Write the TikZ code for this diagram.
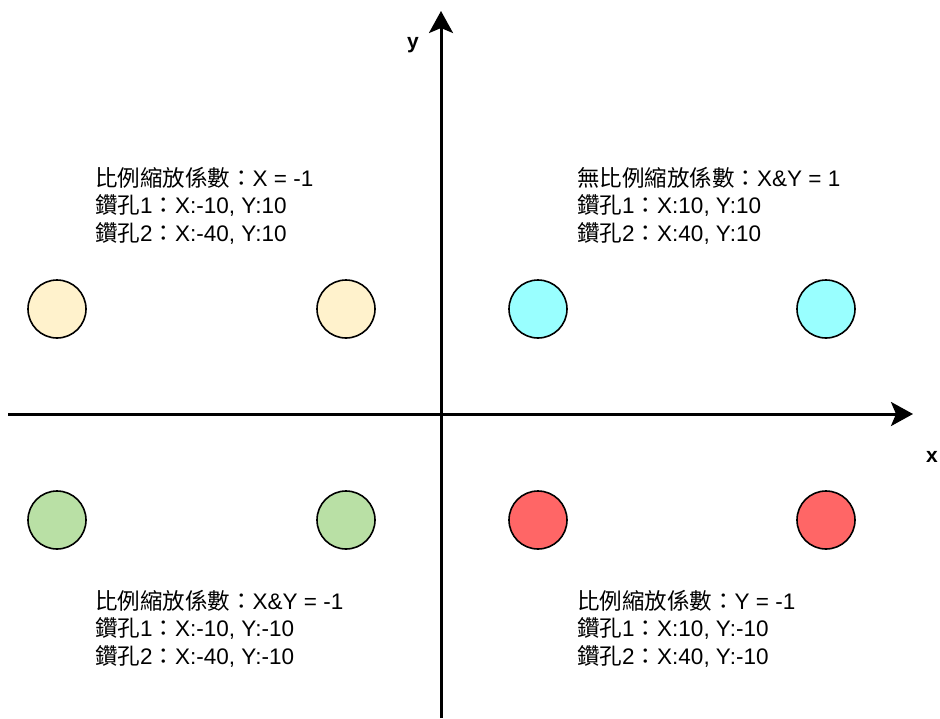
\documentclass[tikz,border=0pt]{standalone}
\usepackage{fontspec}
\setmainfont{Liberation Sans}
\newfontfamily\cjk{Noto Sans CJK TC}
\newcommand{\zh}[1]{{\cjk #1}}
\usetikzlibrary{arrows.meta}
\definecolor{beige}{RGB}{255,242,204}
\definecolor{cyanfill}{RGB}{153,255,255}
\definecolor{greenfill}{RGB}{185,224,165}
\definecolor{redfill}{RGB}{255,102,102}
\begin{document}
\begin{tikzpicture}[x=1pt,y=-1pt,
  axis/.style={line width=3pt,-{Stealth[length=22pt,width=24pt,inset=5pt]}},
  hole/.style={circle,draw=black,line width=1.6pt,minimum size=58pt,inner sep=0pt},
  info/.style={anchor=base west,align=left,inner sep=0pt,font=\fontsize{22.5}{27.5}\selectfont},
  axlabel/.style={font=\fontsize{21}{24}\selectfont\bfseries,inner sep=0pt,anchor=base}]
\useasboundingbox (0,0) rectangle (940,718);
\coordinate (xs) at (8,414);
\coordinate (xe) at (913,414);
\coordinate (ys) at (441,718);
\coordinate (ye) at (441,11);
\draw[axis] (xs) -- (xe);
\draw[axis] (ys) -- (ye);
\node[axlabel] (ylab) at (413,48) {y};
\node[axlabel] (xlab) at (932,462) {x};
% circles
\node[hole,fill=beige] (q2a) at (57,309) {};
\node[hole,fill=beige] (q2b) at (346,309) {};
\node[hole,fill=cyanfill] (q1a) at (538,309) {};
\node[hole,fill=cyanfill] (q1b) at (826,309) {};
\node[hole,fill=greenfill] (q3a) at (57,520) {};
\node[hole,fill=greenfill] (q3b) at (346,520) {};
\node[hole,fill=redfill] (q4a) at (538,520) {};
\node[hole,fill=redfill] (q4b) at (826,520) {};
% texts (anchor = baseline of last line)
\node[info] (t2) at (95,241) {\zh{比例縮放係數：}X = -1\\\zh{鑽孔}1\zh{：}X:-10, Y:10\\\zh{鑽孔}2\zh{：}X:-40, Y:10};
\node[info] (t1) at (577,241) {\zh{無比例縮放係數：}X\&Y = 1\\\zh{鑽孔}1\zh{：}X:10, Y:10\\\zh{鑽孔}2\zh{：}X:40, Y:10};
\node[info] (t3) at (95,664) {\zh{比例縮放係數：}X\&Y = -1\\\zh{鑽孔}1\zh{：}X:-10, Y:-10\\\zh{鑽孔}2\zh{：}X:-40, Y:-10};
\node[info] (t4) at (577,664) {\zh{比例縮放係數：}Y = -1\\\zh{鑽孔}1\zh{：}X:10, Y:-10\\\zh{鑽孔}2\zh{：}X:40, Y:-10};
\end{tikzpicture}
\end{document}
